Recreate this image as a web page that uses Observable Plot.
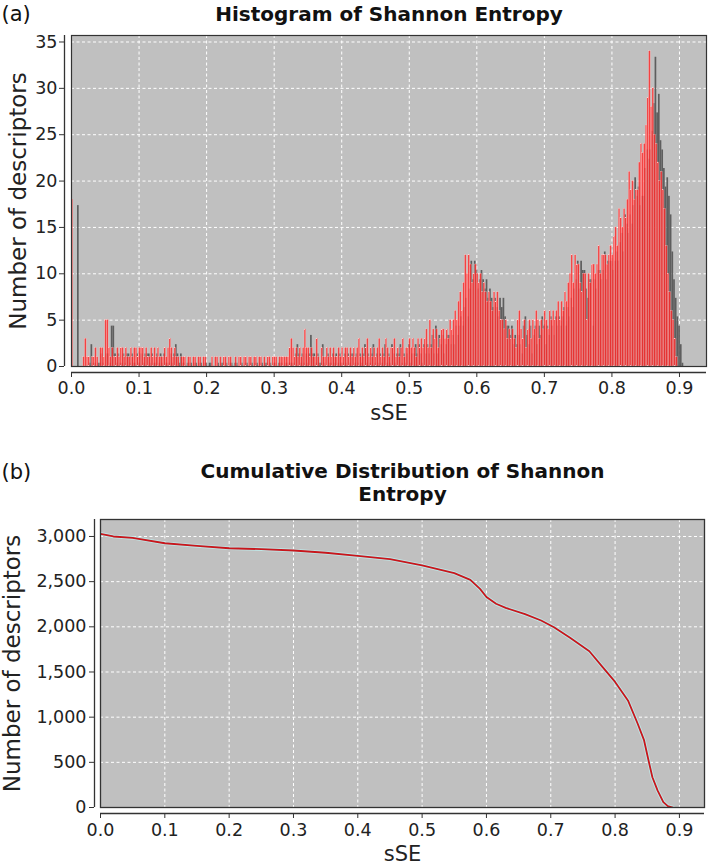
<!DOCTYPE html>
<html><head><meta charset="utf-8">
<script src="https://cdn.jsdelivr.net/npm/d3@7"></script>
<script src="https://cdn.jsdelivr.net/npm/@observablehq/plot@0.6"></script>
<style>
body{margin:0;background:#fff;font-family:"DejaVu Sans",sans-serif;}
#wrap{width:709px;}
svg{display:block;}
</style>
</head><body><div id="wrap"></div>
<script>
// ---- Histogram (a): counts per sSE bin of width 0.0025, starting at 0 ----
const binWidth = 0.0025;
const histCounts = [
  // 0.00 - 0.05
  18,0,0,0,0,0,0,1,3,1,1,0,1,1,2,1,0,2,2,1,
  // 0.05 - 0.10
  5,5,2,1,2,1,1,2,1,2,2,1,2,1,1,2,1,2,2,1,
  // 0.10 - 0.15
  2,2,2,1,2,1,1,2,1,2,1,2,1,1,1,2,1,2,3,2,
  // 0.15 - 0.20
  1,2,1,1,0,1,1,1,0,1,1,0,1,1,0,1,1,0,1,1,
  // 0.20 - 0.25
  0,0,0,1,0,1,1,0,1,0,1,1,0,1,1,0,0,1,0,1,
  // 0.25 - 0.30
  1,0,1,1,0,1,1,0,1,1,0,1,1,0,1,0,1,1,0,1,
  // 0.30 - 0.35
  1,1,0,1,1,1,1,1,1,2,3,2,1,2,1,2,1,2,4,2,
  // 0.35 - 0.40
  2,1,2,1,1,3,1,0,2,1,1,2,1,2,1,2,1,1,2,1,
  // 0.40 - 0.45
  2,1,2,2,1,2,1,2,1,2,3,1,2,1,2,3,1,2,1,2,
  // 0.45 - 0.50
  1,2,3,1,2,1,3,2,1,2,2,3,1,2,1,2,3,1,2,2,
  // 0.50 - 0.55
  3,2,3,2,1,3,2,3,2,3,4,2,5,2,4,3,4,2,3,4,
  // 0.55 - 0.60
  4,3,4,3,5,4,5,6,5,7,8,6,9,12,10,12,11,9,10,11,
  // 0.60 - 0.65
  10,9,10,8,9,8,7,8,7,6,8,7,8,6,5,5,4,5,3,4,
  // 0.65 - 0.70
  3,4,3,2,5,6,4,3,5,2,4,5,3,5,4,6,5,3,5,4,
  // 0.70 - 0.75
  6,5,4,6,5,6,5,6,7,5,7,6,8,7,9,10,12,9,12,11,
  // 0.75 - 0.80
  11,9,8,10,10,5,10,9,11,11,10,11,13,10,12,12,12,11,12,13,
  // 0.80 - 0.85
  12,14,15,13,17,16,15,17,16,18,21,19,20,18,19,19,22,24,23,24,
  // 0.85 - 0.90
  26,29,34,28,30,25,24,22,20,21,19,17,13,10,8,6,5,3,1,0
];
const xTicks = [0, 0.1, 0.2, 0.3, 0.4, 0.5, 0.6, 0.7, 0.8, 0.9];
const histYTicks = [0, 5, 10, 15, 20, 25, 30, 35];

// ---- Cumulative distribution (b): descriptors with sSE >= x ----
const cumX = [0, 0.02, 0.05, 0.1, 0.15, 0.2, 0.25, 0.3, 0.35, 0.4, 0.45, 0.5, 0.55, 0.575, 0.59, 0.6, 0.615, 0.63, 0.66, 0.685, 0.705, 0.73, 0.76, 0.78, 0.8, 0.82, 0.835, 0.845, 0.852, 0.858, 0.866, 0.875, 0.882, 0.89];
const cumY = [3030, 3000, 2985, 2925, 2895, 2870, 2860, 2845, 2820, 2785, 2750, 2680, 2595, 2520, 2420, 2330, 2255, 2210, 2140, 2070, 1995, 1880, 1730, 1560, 1390, 1185, 930, 745, 520, 335, 190, 60, 15, 0];
const cumYTicks = [0, 500, 1000, 1500, 2000, 2500, 3000];

const bins = histCounts.map((n, i) => ({x1: i * binWidth, x2: (i + 1) * binWidth, n}));
const cum = cumX.map((x, i) => ({x, n: cumY[i]}));

const FONT = "DejaVu Sans";
const gridStyle = {stroke: "white", strokeOpacity: 1, strokeWidth: 1, strokeDasharray: "3,2.5"};
const fmt1 = d3.format(".1f");

const A = Plot.plot({
  width: 709, height: 430,
  marginTop: 35, marginBottom: 64, marginLeft: 71, marginRight: 3,
  style: {fontFamily: FONT, fontSize: "17px", color: "#222", background: "white", overflow: "visible"},
  x: {domain: [0, 0.94], label: null},
  y: {domain: [0, 35.7], label: null},
  marks: [
    Plot.frame({fill: "#c0c0c0"}),
    Plot.gridX(xTicks, gridStyle),
    Plot.gridY(histYTicks, gridStyle),
    Plot.rectY(bins, {x1: "x1", x2: "x2", y: "n", fill: "#5e5e5e", dx: 6, dy: 6, clip: true}),
    Plot.rectY(bins, {x1: "x1", x2: "x2", y: "n", fill: "#ff2626", fillOpacity: 0.82, stroke: "#ffd0d0", strokeWidth: 0.3, clip: true}),
    Plot.frame({stroke: "#333", strokeWidth: 1.2}),
    Plot.ruleX([0], {dx: -7, stroke: "#333", strokeWidth: 1.3}),
    Plot.ruleY([0], {dy: 6, stroke: "#333", strokeWidth: 1.3}),
    Plot.axisX(xTicks, {tickSize: 5, dy: 6, tickPadding: 4, fontSize: 17.5, tickFormat: fmt1, label: null, stroke: "#333"}),
    Plot.axisY(histYTicks, {tickSize: 5, dx: -7, tickPadding: 2, fontSize: 17.5, label: null, stroke: "#333"}),
    Plot.text(["sSE"], {frameAnchor: "bottom", dy: 47, fontSize: 21, lineAnchor: "middle", fill: "#222"}),
    Plot.text(["Number of descriptors"], {frameAnchor: "left", dx: -53, rotate: -90, fontSize: 23, letterSpacing: "0.5px", textAnchor: "middle", lineAnchor: "middle", fill: "#222"}),
    Plot.text(["Histogram of Shannon Entropy"], {frameAnchor: "top", dy: -21, fontSize: 20, fontWeight: "bold", lineAnchor: "middle", fill: "#111"}),
    Plot.text(["(a)"], {frameAnchor: "top-left", dx: -70, dy: -21, fontSize: 21, textAnchor: "start", lineAnchor: "middle", fill: "#111"})
  ]
});

const B = Plot.plot({
  width: 709, height: 436,
  marginTop: 89, marginBottom: 59, marginLeft: 100, marginRight: 5,
  style: {fontFamily: FONT, fontSize: "17px", color: "#222", background: "white", overflow: "visible"},
  x: {domain: [0, 0.939], label: null},
  y: {domain: [0, 3188], label: null},
  marks: [
    Plot.frame({fill: "#c0c0c0"}),
    Plot.gridX(xTicks, gridStyle),
    Plot.gridY(cumYTicks, gridStyle),
    Plot.line(cum, {x: "x", y: "n", stroke: "#bfe6e6", strokeWidth: 3.6, clip: true}),
    Plot.line(cum, {x: "x", y: "n", stroke: "#c8161c", strokeWidth: 1.8, clip: true}),
    Plot.frame({stroke: "#333", strokeWidth: 1.3}),
    Plot.ruleX([0], {dx: -6, stroke: "#333", strokeWidth: 1.3}),
    Plot.ruleY([0], {dy: 6, stroke: "#333", strokeWidth: 1.3}),
    Plot.axisX(xTicks, {tickSize: 5, dy: 6, tickPadding: 5, fontSize: 17.5, tickFormat: fmt1, label: null, stroke: "#333"}),
    Plot.axisY(cumYTicks, {tickSize: 5, dx: -6, tickPadding: 3, fontSize: 17.5, tickFormat: d3.format(","), label: null, stroke: "#333"}),
    Plot.text(["sSE"], {frameAnchor: "bottom", dy: 47, fontSize: 21, lineAnchor: "middle", fill: "#222"}),
    Plot.text(["Number of descriptors"], {frameAnchor: "left", dx: -88, rotate: -90, fontSize: 23, letterSpacing: "0.5px", textAnchor: "middle", lineAnchor: "middle", fill: "#222"}),
    Plot.text(["Cumulative Distribution of Shannon"], {frameAnchor: "top", dy: -48, fontSize: 20, fontWeight: "bold", lineAnchor: "middle", fill: "#111"}),
    Plot.text(["Entropy"], {frameAnchor: "top", dy: -25, fontSize: 20, fontWeight: "bold", lineAnchor: "middle", fill: "#111"}),
    Plot.text(["(b)"], {frameAnchor: "top-left", dx: -99, dy: -47, fontSize: 21, textAnchor: "start", lineAnchor: "middle", fill: "#111"})
  ]
});

const wrap = document.getElementById("wrap");
wrap.appendChild(A);
wrap.appendChild(B);
</script>
</body></html>
